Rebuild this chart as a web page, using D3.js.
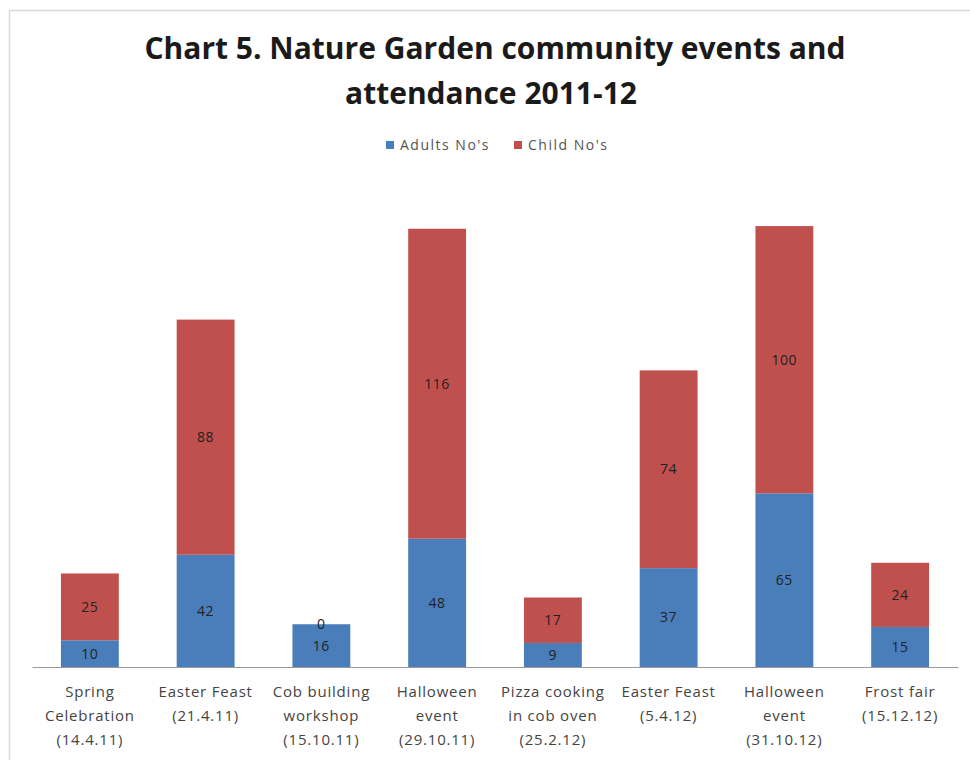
<!DOCTYPE html>
<html><head><meta charset="utf-8">
<script src="https://cdn.jsdelivr.net/npm/d3@7/dist/d3.min.js"></script>
<style>body{margin:0;background:#fff}svg{display:block}</style>
</head><body><svg id="c" width="970" height="760"></svg>
<script>
const categories = [
  ["Spring","Celebration","(14.4.11)"],
  ["Easter Feast","(21.4.11)"],
  ["Cob building","workshop","(15.10.11)"],
  ["Halloween","event","(29.10.11)"],
  ["Pizza cooking","in cob oven","(25.2.12)"],
  ["Easter Feast","(5.4.12)"],
  ["Halloween","event","(31.10.12)"],
  ["Frost fair","(15.12.12)"]
];
const adults = [10, 42, 16, 48, 9, 37, 65, 15];
const children = [25, 88, 0, 116, 17, 74, 100, 24];
const seriesNames = ["Adults No's", "Child No's"];
const colors = ["#4a7ebb", "#c0504d"];

const svg = d3.select("#c");
const font = "'Open Sans', 'Liberation Sans', sans-serif";

// frame
svg.append("path").attr("d","M9.5,760 V10.5 H970").attr("fill","none").attr("stroke","#d9d9d9").attr("stroke-width",1.5);

// title
const title = svg.append("text").attr("text-anchor","middle")
  .attr("font-family",font).attr("font-weight","bold").attr("font-size",30).attr("fill","#1a1a1a");
title.append("tspan").attr("x",495).attr("y",59).text("Chart 5. Nature Garden community events and");
title.append("tspan").attr("x",491).attr("y",104).text("attendance 2011-12");

const idx = d3.range(categories.length);
const x = d3.scaleBand().domain(idx).range([32, 958]).paddingInner(0.5).paddingOuter(0.25);
const y = d3.scaleLinear().domain([0, 180]).range([667, 186]);

const stackData = idx.map(i => ({i, a: adults[i], c: children[i]}));
const stack = d3.stack().keys(["a","c"])(stackData);

const g = svg.append("g");
stack.forEach((layer, li) => {
  g.selectAll(null).data(layer).enter().append("rect")
    .attr("x", d => x(d.data.i))
    .attr("width", x.bandwidth())
    .attr("y", d => y(d[1]))
    .attr("height", d => y(d[0]) - y(d[1]))
    .attr("fill", colors[li]);
});
stack.forEach((layer, li) => {
  g.selectAll(null).data(layer).enter().append("text")
    .attr("x", d => x(d.data.i) + x.bandwidth()/2)
    .attr("y", d => (y(d[0]) + y(d[1]))/2)
    .attr("dy","0.35em")
    .attr("text-anchor","middle")
    .attr("font-family",font).attr("font-size",14).attr("letter-spacing",0.5).attr("fill","#222")
    .text(d => d[1]-d[0]);
});

// x axis
const xAxis = d3.axisBottom(x).tickSize(0).tickFormat("");
const ax = svg.append("g").attr("transform","translate(0,667)").call(xAxis);
ax.select(".domain").attr("stroke","#999").attr("stroke-width",1.2);
ax.selectAll(".tick").each(function(i){
  const t = d3.select(this).append("text").attr("fill","#444")
    .attr("font-family",font).attr("font-size",15).attr("letter-spacing",0.8).attr("text-anchor","middle");
  categories[i].forEach((line,k)=>{
    t.append("tspan").attr("x",0).attr("y",30 + k*24).text(line);
  });
});

// legend
const leg = svg.append("g").attr("font-family",font).attr("font-size",14).attr("letter-spacing",1.5);
const legX = [386, 514];
seriesNames.forEach((n,k)=>{
  leg.append("rect").attr("x",legX[k]).attr("y",141).attr("width",8).attr("height",8).attr("fill",colors[k]);
  leg.append("text").attr("x",legX[k]+14).attr("y",150).attr("fill","#555").text(n);
});
</script></body></html>
